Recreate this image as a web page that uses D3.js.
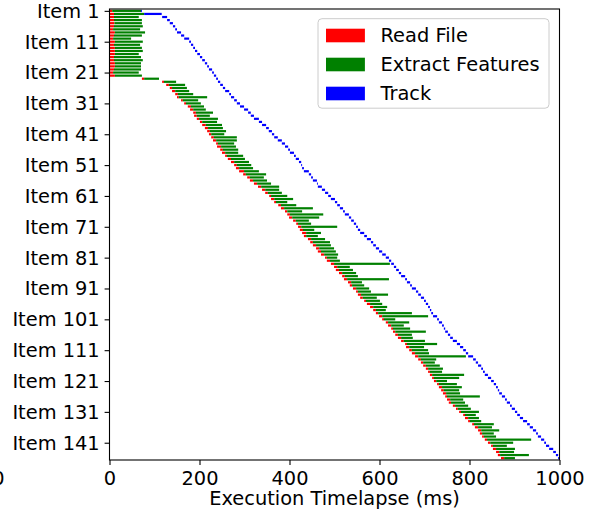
<!DOCTYPE html>
<html>
<head>
<meta charset="utf-8">
<script src="https://cdn.jsdelivr.net/npm/d3@7"></script>
<style>
    body { margin: 0; background: #fff; }
    svg { display: block; }
    svg text { font-family: "DejaVu Sans", sans-serif; fill: #000; }
    .tick text { font-size: 19.4px; }
</style>
</head>
<body>
<div id="chart"></div>
<script>
// tick labels on the item axis
let itemTicks = ["Item 1", "Item 11", "Item 21", "Item 31", "Item 41", "Item 51", "Item 61", "Item 71",
    "Item 81", "Item 91", "Item 101", "Item 111", "Item 121", "Item 131", "Item 141"];
let timeTicks = [0, 200, 400, 600, 800, 1000];
let phases = ["Read File", "Extract Features", "Track"];
let phaseColors = ["red", "green", "blue"];

// read file start (ms), one per item
let readStart = [0,0,0,0,0,0,0,0,0,0, 0,0,0,0,0,0,0,0,0,0,
    0,0,72,117,126,134,139,146,150,159, 166,174,179,186,188,194,201,206,212,217,
    221,226,230,237,239,246,250,257,263,270, 277,281,288,297,306,312,321,330,339,346,
    355,359,366,375,381,390,395,399,408,415, 419,423,428,432,441,446,452,459,463,470,
    479,483,492,499,503,510,517,521,530,534, 541,548,552,557,566,572,579,586,592,599,
    606,614,619,626,630,635,641,648,657,659, 666,672,679,686,692,697,703,708,712,717,
    721,728,732,737,741,746,750,754,763,770, 777,786,790,797,806,812,819,823,828,834,
    841,848,852,859,863,870];
// read file end = extract features start
let readEnd = [6,10,10,10,11,10,8,12,10,8, 12,10,12,12,12,10,10,12,12,10,
    8,12,77,121,132,139,146,152,154,163, 170,181,186,192,194,199,206,214,219,223,
    226,232,237,241,248,252,257,261,270,277, 283,288,299,303,312,319,328,337,346,352,
    359,366,370,381,388,395,401,406,414,419, 426,430,437,437,448,452,459,466,470,477,
    483,490,499,506,510,517,523,528,537,539, 548,552,559,563,570,579,586,592,597,606,
    610,619,626,630,635,641,648,654,661,666, 672,679,686,692,697,703,708,712,717,721,
    726,732,739,743,748,750,757,759,768,774, 781,790,797,801,810,819,826,828,832,839,
    846,852,859,866,868,877];
// extract features end
let extractEnd = [70,77,65,72,72,74,68,79,72,48, 74,68,72,74,65,70,74,70,70,70,
    65,72,110,148,168,172,177,186,217,197, 203,210,214,230,223,241,239,250,252,259,
    255,283,283,277,281,286,286,297,301,310, 315,319,332,348,343,350,359,377,377,383,
    395,408,395,415,452,428,475,466,443,448, 506,455,470,463,479,490,492,499,503,508,
    506,512,623,534,541,548,552,621,561,566, 577,581,619,594,601,606,617,614,672,708,
    635,666,654,668,703,672,674,701,728,699, 708,710,792,726,723,734,741,739,788,777,
    750,772,783,777,779,823,786,790,797,803, 821,814,821,826,854,850,866,854,859,937,
    897,883,901,899,932,901];
// track start / end
let trackStart = [70,77,117,128,134,141,146,150,159,166, 177,181,186,190,195,201,206,212,217,221,
    228,232,237,241,246,252,257,266,270,277, 283,290,299,308,314,321,332,339,348,354,
    361,366,374,383,390,397,401,410,414,421, 426,428,432,443,448,452,461,463,472,479,
    486,492,501,506,512,519,523,532,537,543, 548,552,557,566,572,581,586,592,599,606,
    614,621,626,632,637,643,648,657,661,668, 672,681,686,692,699,703,708,712,715,719,
    728,732,739,743,746,752,757,763,772,779, 786,792,797,808,814,819,826,830,834,841,
    848,854,859,863,866,872,879,883,890,894, 901,906,912,919,928,934,941,948,952,959,
    966,970,977,986,992,997];
let trackEnd = [72,116,128,134,141,146,150,159,166,177, 181,186,190,195,201,206,212,217,221,228,
    232,237,241,246,252,257,266,270,277,283, 290,299,308,314,321,332,339,348,354,361,
    366,374,383,390,397,401,410,414,421,426, 428,432,443,448,452,461,463,472,479,486,
    492,501,506,512,519,523,532,537,543,548, 552,557,566,572,581,586,592,599,606,614,
    621,626,632,637,643,648,657,661,668,672, 681,686,692,699,703,708,712,715,719,728,
    732,739,743,746,752,757,763,772,779,786, 792,797,808,814,819,826,830,834,841,848,
    854,859,863,866,872,879,883,890,894,901, 906,912,919,928,934,941,948,952,959,966,
    970,977,986,992,997,1000];

let width = 594, height = 513;
let fontSize = 19.4;

let svg = d3.select("#chart").append("svg")
    .attr("width", width)
    .attr("height", height);

let x = d3.scaleLinear().domain([0, 1000]).range([109.5, 559.5]);
let y = d3.scaleLinear().domain([-0.6, 145.6]).range([9, 460]);
let barH = 2.2;

let items = readStart.map(function(d, i) {
    return {
        name: "Item " + (i + 1),
        i: i,
        segs: [[readStart[i], readEnd[i]], [readEnd[i], extractEnd[i]], [trackStart[i], trackEnd[i]]]
    };
});

// one group per phase
phases.forEach(function(p, k) {
    svg.append("g")
        .attr("class", "phase")
        .selectAll("rect")
        .data(items)
        .enter().append("rect")
        .attr("x", function(d) { return x(d.segs[k][0]); })
        .attr("y", function(d) { return y(d.i) - barH / 2; })
        .attr("width", function(d) { return Math.max(0, x(d.segs[k][1]) - x(d.segs[k][0])); })
        .attr("height", barH)
        .style("fill", phaseColors[k]);
});

// axes
let xAxis = svg.append("g")
    .attr("transform", "translate(0,460)")
    .call(d3.axisBottom(x).tickValues(timeTicks).tickSize(4.9).tickFormat(d3.format("d")));
xAxis.attr("font-family", null).attr("font-size", null);
xAxis.select(".domain").remove();
xAxis.selectAll(".tick line").attr("stroke", "#000").attr("stroke-width", 1.1);
xAxis.selectAll(".tick text").attr("y", 24.5).attr("dy", 0);

let yAxis = svg.append("g")
    .attr("transform", "translate(109.5,0)")
    .call(d3.axisLeft(y)
        .tickValues(itemTicks.map(function(t) { return +t.split(" ")[1] - 1; }))
        .tickSize(4.9)
        .tickPadding(4.9)
        .tickFormat(function(d) { return itemTicks[d / 10]; }));
yAxis.attr("font-family", null).attr("font-size", null);
yAxis.select(".domain").remove();
yAxis.selectAll(".tick line").attr("stroke", "#000").attr("stroke-width", 1.1);
yAxis.selectAll(".tick text").attr("dy", "0.33em");

// stray tick label cut by the left edge
svg.append("text")
    .attr("x", -1.5)
    .attr("y", 484.5)
    .attr("text-anchor", "middle")
    .style("font-size", fontSize + "px")
    .text("0");

// frame
svg.append("rect")
    .attr("x", 109.5)
    .attr("y", 9)
    .attr("width", 450)
    .attr("height", 451)
    .style("fill", "none")
    .style("stroke", "#000")
    .style("stroke-width", 1.1);

svg.append("text")
    .attr("x", 334.5)
    .attr("y", 505)
    .attr("text-anchor", "middle")
    .style("font-size", fontSize + "px")
    .text("Execution Timelapse (ms)");

// legend
let leg = svg.append("g").attr("class", "legend");
leg.append("rect")
    .attr("x", 318)
    .attr("y", 18.7)
    .attr("width", 231)
    .attr("height", 89.5)
    .attr("rx", 3.9)
    .style("fill", "rgba(255,255,255,0.8)")
    .style("stroke", "#cccccc")
    .style("stroke-width", 1);

let legRows = leg.selectAll("g.row")
    .data(phases)
    .enter().append("g")
    .attr("class", "row")
    .attr("transform", function(d, i) { return "translate(0," + (35.5 + i * 29) + ")"; });

legRows.append("rect")
    .attr("x", 326)
    .attr("y", -6.8)
    .attr("width", 38.9)
    .attr("height", 13.6)
    .style("fill", function(d, i) { return phaseColors[i]; });

legRows.append("text")
    .attr("x", 380.5)
    .attr("y", 0)
    .attr("dy", "0.33em")
    .style("font-size", fontSize + "px")
    .text(function(d) { return d; });
</script>
</body>
</html>
